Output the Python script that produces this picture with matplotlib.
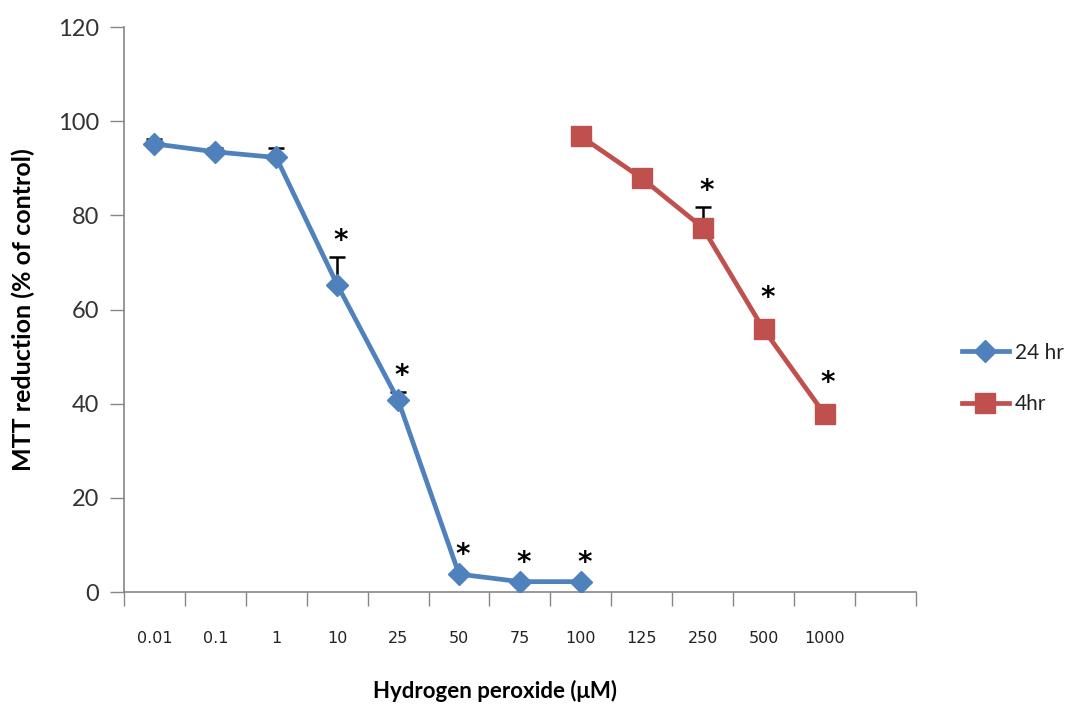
import matplotlib
matplotlib.use("Agg")
import matplotlib.pyplot as plt
import numpy as np

# concentrations (uM); last slot is an empty category like in the Excel chart
doses = ["0.01", "0.1", "1", "10", "25", "50", "75", "100", "125", "250", "500", "1000", ""]

# 24 hr exposure, categories 0.01 .. 100
hr24 = [95.2, 93.5, 92.3, 65.3, 40.8, 3.8, 2.2, 2.2]
hr24_err = [1.0, 0.9, 2.0, 5.8, 1.6, 0.0, 0.0, 0.0]
hr24_sig = [False, False, False, True, True, True, True, True]

# 4 hr exposure, categories 100 .. 1000
hr4 = [96.8, 87.9, 77.4, 55.8, 37.8]
hr4_err = [0.0, 0.0, 4.4, 0.0, 0.0]
hr4_sig = [False, False, True, True, True]

blue = "#4F81BD"
red = "#C0504D"
axcol = "#868686"

fig = plt.figure(figsize=(10.75, 7.13), dpi=100)
ax = fig.add_axes([0.1153, 0.1697, 0.7367, 0.7923])

x = np.arange(len(doses))
x24 = x[:len(hr24)]
x4 = x[7:7 + len(hr4)]


def draw(xs, vals, errs, sig, color, marker, ms, label, pad):
    vals = np.array(vals)
    errs = np.array(errs)
    # only the upper half of the error bar, like the original
    ax.errorbar(xs, vals, yerr=[np.zeros_like(errs), errs], fmt="none",
                ecolor="black", elinewidth=1.8, capsize=6, capthick=1.8, zorder=2)
    ax.plot(xs, vals, color=color, lw=3.4, marker=marker, ms=ms,
            mec=color, mfc=color, label=label, zorder=3)
    for xi, v, e, s in zip(xs, vals, errs, sig):
        if s:
            top = max(v + e + 3.4, v + pad)
            ax.text(xi + 0.06, top, "*", ha="center", va="center",
                    fontsize=20, fontweight="bold", fontfamily="DejaVu Sans", zorder=4)


draw(x24, hr24, hr24_err, hr24_sig, blue, "D", 11, "24 hr", 4.0)
draw(x4, hr4, hr4_err, hr4_sig, red, "s", 15, "4hr", 6.6)

ax.set_xlim(-0.5, len(doses) - 0.5)
ax.set_ylim(0, 120)
ax.set_yticks(np.arange(0, 121, 20))
ax.set_xticks(np.arange(len(doses) + 1) - 0.5)
ax.set_xticklabels([])
ax.set_xticks(x, minor=True)
ax.set_xticklabels(doses, minor=True, fontsize=11.5,
                   family=["Liberation Sans Narrow", "DejaVu Sans"])
ax.tick_params(axis="x", which="major", length=10, width=1, color=axcol, direction="out")
ax.tick_params(axis="x", which="minor", length=0, pad=28, labelcolor="#222222")
ax.tick_params(axis="y", length=10, width=1, color=axcol, pad=8,
               labelsize=17, labelcolor="#333333")
for lab in ax.get_yticklabels():
    lab.set_family("Lato")

for s in ["top", "right"]:
    ax.spines[s].set_visible(False)
for s in ["left", "bottom"]:
    ax.spines[s].set_color(axcol)
    ax.spines[s].set_linewidth(1.2)

ax.set_ylabel("MTT reduction (% of control)", fontsize=18, fontweight="bold",
              family="Lato", labelpad=16)
ax.set_xlabel("Hydrogen peroxide (μM)", fontsize=16, fontweight="bold",
              family="Lato")
ax.xaxis.set_label_coords(0.469, -0.155)

fig.legend(loc="center left", bbox_to_anchor=(0.877, 0.4695), frameon=False,
           handlelength=2.3, handletextpad=0.25, labelspacing=1.5,
           prop={"family": "Lato", "size": 15}, labelcolor="#222222")

fig.savefig("out.png", dpi=100)
